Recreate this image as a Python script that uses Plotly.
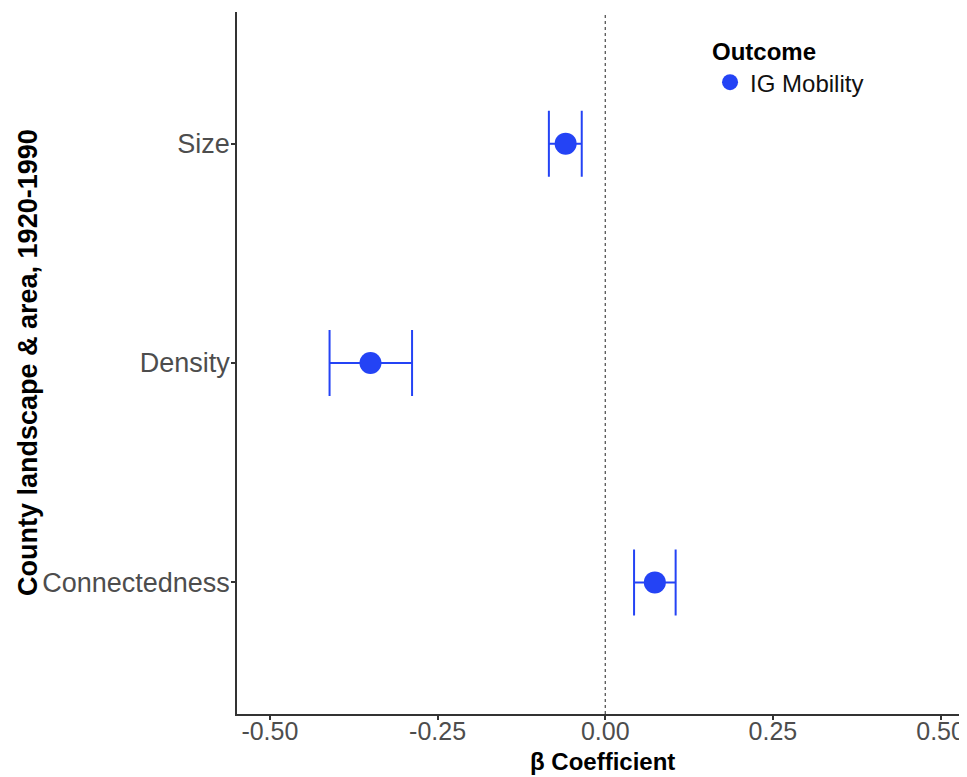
import plotly.graph_objects as go

categories = ["Size", "Density", "Connectedness"]
estimates = [-0.059, -0.350, 0.074]
ci_low = [-0.084, -0.411, 0.043]
ci_high = [-0.035, -0.288, 0.105]
x_ticks = [-0.50, -0.25, 0.00, 0.25, 0.50]
x_tick_labels = ["-0.50", "-0.25", "0.00", "0.25", "0.50"]
series_name = "IG Mobility"

color = "#2443F5"
font = "Liberation Sans, Arial, sans-serif"

err_plus = [h - e for h, e in zip(ci_high, estimates)]
err_minus = [e - l for e, l in zip(estimates, ci_low)]

fig = go.Figure()
fig.add_trace(go.Scatter(
    x=estimates, y=categories, mode="markers", name=series_name,
    marker=dict(color=color, size=22, line=dict(width=0)),
    error_x=dict(type="data", array=err_plus, arrayminus=err_minus,
                 color=color, thickness=2, width=33, symmetric=False),
    showlegend=True,
))

fig.add_shape(type="line", x0=0, x1=0, y0=0, y1=1, xref="x", yref="paper",
              line=dict(color="#222222", width=1, dash="dot"))

# page body has an 8px margin, so the figure is shifted by 8px; compensate
fig.update_layout(
    width=959, height=769,
    margin=dict(l=229, r=0, t=4, b=63),
    plot_bgcolor="white", paper_bgcolor="white",
    font=dict(family=font),
    xaxis=dict(range=[-0.549, 0.5394], tickvals=x_ticks, ticktext=x_tick_labels,
               showgrid=False, zeroline=False, showline=True,
               linecolor="#333333", linewidth=1.5,
               ticks="outside", ticklen=4, tickcolor="#333333", tickwidth=1.5,
               tickfont=dict(size=25, color="#4D4D4D", family=font)),
    yaxis=dict(type="category", categoryorder="array",
               categoryarray=list(reversed(categories)), range=[-0.6, 2.6],
               showgrid=False, zeroline=False, showline=True,
               linecolor="#333333", linewidth=1.5,
               ticks="outside", ticklen=4, tickcolor="#333333", tickwidth=1.5,
               tickfont=dict(size=27, color="#4D4D4D", family=font)),
    legend=dict(x=0.648, y=0.976, xanchor="left", yanchor="top",
                title=dict(text="<b>Outcome</b>", font=dict(size=24, color="black", family=font)),
                font=dict(size=24, color="#111111", family=font),
                bgcolor="rgba(0,0,0,0)", itemsizing="trace"),
    annotations=[
        dict(text="<b>β Coefficient</b>", x=0.5, y=-0.068, xref="paper", yref="paper",
             xanchor="center", yanchor="middle", showarrow=False,
             font=dict(size=24, color="black", family=font)),
        dict(text="<b>County landscape & area, 1920-1990</b>", x=-0.2863, y=0.5,
             xref="paper", yref="paper", xanchor="center", yanchor="middle",
             textangle=-90, showarrow=False,
             font=dict(size=27, color="black", family=font)),
    ],
)

try:
    fig.update_xaxes(ticklabelstandoff=-10)
    fig.update_yaxes(ticklabelstandoff=-4)
except Exception:
    pass

fig.write_html("out.html")
